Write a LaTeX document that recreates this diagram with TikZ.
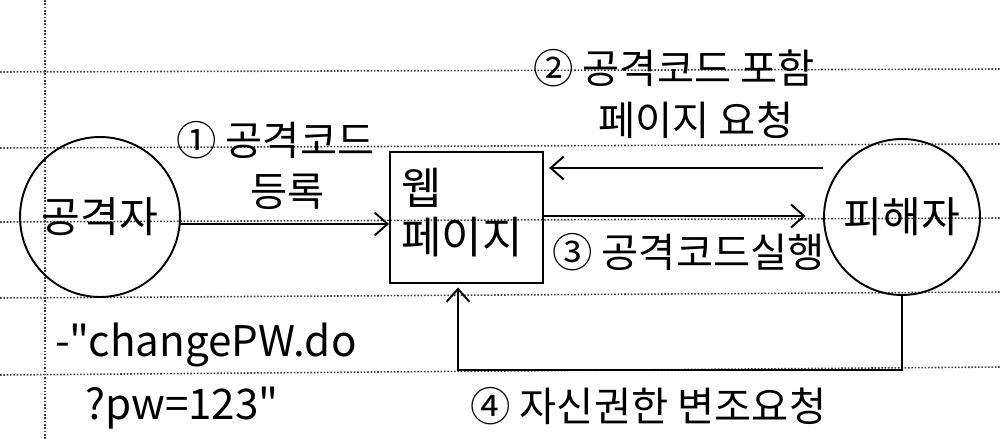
\documentclass[tikz,border=0pt]{standalone}
\usepackage{fontspec}
\setmainfont{Noto Sans CJK KR}
\newfontfamily\kr{Noto Sans CJK KR}
\usetikzlibrary{arrows.meta,calc}

\tikzset{
  actor/.style={circle, draw, line width=1.1pt, inner sep=0pt, font=\kr\fontsize{24}{28}\selectfont},
  pagebox/.style={rectangle, draw, line width=1.1pt, align=left, inner sep=0pt},
  arr/.style={-{Straight Barb[length=2.6mm,width=4.6mm,line width=1.1pt]}, line width=1.1pt},
  lbl/.style={anchor=west, inner sep=0pt, font=\kr\fontsize{23}{27}\selectfont},
  ruled/.style={densely dotted, line width=0.9pt, black!75}
}

\begin{document}
\begin{tikzpicture}[x=0.02cm, y=-0.02cm]
  \useasboundingbox (0,0) rectangle (1000,439);
  % 줄 노트 배경
  \foreach \yl/\yr in {72/69, 148/144, 222/218, 298/292, 375/367}
    \draw[ruled] (0,\yl) -- (1000,\yr);
  \draw[ruled] (45,0) -- (45,439);

  % 공격자, 웹 페이지, 피해자
  \node[actor, minimum size=3.2cm] (attacker) at (100,217) {공격자};
  \node[actor, minimum size=3.12cm] (victim) at (902,217) {피해자};
  \node[pagebox, minimum width=3.06cm, minimum height=2.62cm] (web) at (466.5,217.5) {};
  \node[anchor=north west, inner sep=0pt, font=\kr\fontsize{25}{30}\selectfont, align=left]
    (webtxt) at (401,168) {웹\\[-2pt]페이지};

  % ① 공격코드 등록
  \coordinate (s1) at (180,224);
  \draw[arr] (s1) -- (s1 -| web.west);
  \node[lbl] (l1) at (176,140) {① 공격코드};
  \node[lbl] (l1b) at (250,192) {등록};

  % ② 공격코드 포함 페이지 요청
  \coordinate (s2) at (823,168);
  \draw[arr] (s2) -- ([xshift=3pt]s2 -| web.east);
  \node[lbl] (l2) at (533,68) {② 공격코드 포함};
  \node[lbl] (l2b) at (598,120) {페이지 요청};

  % ③ 공격코드실행
  \coordinate (s3) at (543,216);
  \draw[arr] (s3) -- ([xshift=-10pt]s3 -| victim.west);
  \node[lbl] (l3) at (552,252) {③ 공격코드실행};

  % ④ 자신권한 변조요청
  \coordinate (c4) at (458,370);
  \draw[arr] (victim.south) |- (c4) -- ([yshift=-2pt]c4 |- web.south);
  \node[lbl] (l4) at (470,406) {④ 자신권한 변조요청};

  % 요청 URL
  \node[lbl, font=\kr\fontsize{24}{28}\selectfont] (url1) at (55,345) {-"changePW.do};
  \node[lbl, font=\kr\fontsize{24}{28}\selectfont] (url2) at (85,408) {?pw=123"};
\end{tikzpicture}
\end{document}
